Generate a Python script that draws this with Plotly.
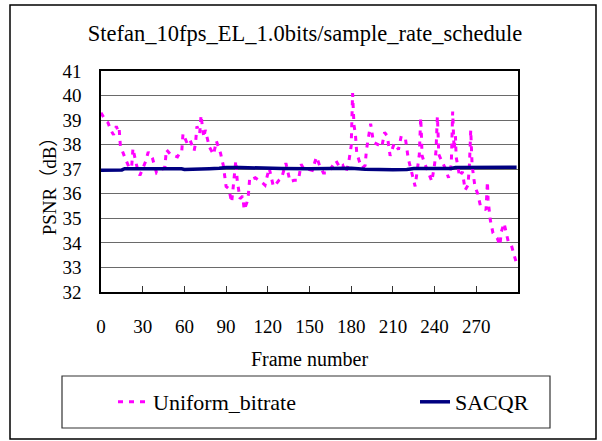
import plotly.graph_objects as go

chart_title = "Stefan_10fps_EL_1.0bits/sample_rate_schedule"
x_title = "Frame number"
y_title = "PSNR（dB）"
x_tick_vals = [0, 30, 60, 90, 120, 150, 180, 210, 240, 270]
y_tick_vals = [32, 33, 34, 35, 36, 37, 38, 39, 40, 41]

uniform_name = "Uniform_bitrate"
uniform_frames = [0, 1, 3, 5, 7, 9, 11, 12, 13, 14, 15, 17, 19, 20, 22, 23, 25, 27, 28, 30,
                  32, 34, 36, 37, 40, 43, 46, 47, 50, 52, 55, 56, 58, 59, 62, 64, 66, 67, 68, 69,
                  71, 72, 73, 74, 75, 78, 81, 83, 86, 88, 90, 92, 94, 95, 96, 97, 98, 100, 102, 103,
                  105, 106, 107, 109, 111, 114, 116, 118, 119, 121, 124, 126, 128, 130, 133, 136, 139, 142, 144, 146,
                  149, 152, 155, 157, 160, 163, 165, 167, 169, 172, 174, 176, 178, 180, 181, 182, 183, 184, 186, 188,
                  190, 191, 193, 194, 196, 198, 199, 201, 202, 204, 206, 208, 210, 211, 213, 214, 216, 219, 221, 224,
                  226, 229, 230, 230.5, 231, 233, 235, 238, 240, 241, 242, 242.5, 243, 245, 248, 250, 252, 253, 253.5, 254,
                  255, 255.5, 258, 260, 262, 264, 265, 266, 266.5, 267, 269, 271, 273, 277, 278, 278.5, 280, 282, 285, 287,
                  288, 290, 293, 295, 297, 299]
uniform_psnr = [39.3, 39.2, 39.0, 38.9, 38.6, 38.4, 38.75, 38.6, 38.7, 37.9, 37.8, 37.5, 37.25, 37.1, 37.05, 37.85, 37.3, 36.85, 36.75, 37.0,
                37.3, 37.7, 37.55, 37.45, 36.85, 36.95, 37.1, 37.8, 37.6, 37.55, 37.5, 37.6, 37.65, 38.45, 38.05, 38.2, 37.85, 37.75, 38.05, 38.75,
                38.45, 39.2, 38.7, 38.3, 38.6, 37.9, 37.6, 38.15, 37.65, 37.15, 36.3, 36.2, 35.65, 36.2, 36.9, 37.35, 36.55, 35.8, 35.9, 35.35,
                35.65, 35.95, 36.65, 36.6, 36.65, 36.55, 36.45, 36.35, 36.55, 37.05, 36.3, 36.4, 36.55, 36.65, 37.25, 36.5, 36.55, 36.55, 37.2, 37.0,
                37.0, 36.95, 37.5, 37.2, 36.85, 36.85, 37.0, 37.2, 37.35, 37.05, 37.15, 36.85, 37.2, 37.95, 40.1, 38.8, 38.45, 37.65, 37.3, 37.05,
                37.15, 37.8, 38.5, 38.85, 38.1, 38.05, 38.0, 37.95, 37.9, 38.5, 38.35, 37.55, 37.9, 38.05, 37.9, 37.8, 38.35, 38.25, 37.45, 36.7,
                36.3, 37.6, 39.1, 38.4, 37.55, 37.2, 36.95, 36.5, 37.2, 37.75, 39.15, 38.45, 37.6, 37.35, 37.0, 36.65, 37.2, 39.35, 38.6, 37.8,
                38.35, 37.5, 36.7, 36.9, 36.15, 36.35, 37.1, 38.6, 37.85, 37.15, 36.3, 36.0, 35.5, 35.35, 36.5, 35.75, 34.95, 34.4, 34.2, 33.9,
                34.45, 34.8, 34.05, 33.95, 33.55, 33.15]

sacqr_name = "SACQR"
sacqr_frames = [0, 10, 15, 17, 30, 45, 58, 60, 75, 78, 85, 90, 100, 107, 110, 130, 150, 170, 180, 190,
                200, 210, 220, 225, 240, 252, 255, 270, 285, 299]
sacqr_psnr = [36.96, 36.96, 36.97, 37.02, 37.03, 37.02, 37.02, 36.99, 36.99, 37.02, 37.04, 37.07, 37.07, 37.06, 37.03, 37.03, 37.02, 37.03, 37.04, 37.0,
              36.98, 36.98, 36.99, 37.03, 37.03, 37.03, 37.07, 37.08, 37.08, 37.08]

W, H = 602, 441
L, R, T, B = 101, 602 - 518, 71, 441 - 292
pw, ph = W - L - R, H - T - B

def px(x):
    return (x - L) / pw

def py(y):
    return (H - B - y) / ph

FONT = "Liberation Serif, Noto Sans CJK SC, serif"

fig = go.Figure()
fig.add_trace(go.Scatter(
    x=uniform_frames, y=uniform_psnr, name=uniform_name, mode="lines",
    line=dict(color="#FF00FF", width=3, dash="5px,6px"), legend="legend",
))
fig.add_trace(go.Scatter(
    x=sacqr_frames, y=sacqr_psnr, name=sacqr_name, mode="lines",
    line=dict(color="#000080", width=3.5), legend="legend2",
))

legend_common = dict(orientation="h", yanchor="middle", y=py(402), xanchor="left",
                     font=dict(family=FONT, size=22, color="black"),
                     bgcolor="rgba(0,0,0,0)", borderwidth=0)

fig.update_layout(
    width=W, height=H,
    margin=dict(l=L, r=R, t=T, b=B, autoexpand=False),
    paper_bgcolor="white", plot_bgcolor="white",
    font=dict(family=FONT, size=19, color="black"),
    title=dict(text=chart_title, x=305 / W, xanchor="center", y=1 - 33 / H, yanchor="middle",
               font=dict(family=FONT, size=22.5, color="black")),
    showlegend=True,
    legend=dict(x=px(113), **legend_common),
    legend2=dict(x=px(415), **legend_common),
    shapes=[
        dict(type="rect", xref="paper", yref="paper", x0=px(10), x1=px(596), y0=py(439), y1=py(5),
             line=dict(color="black", width=1.5), layer="below"),
        dict(type="rect", xref="paper", yref="paper", x0=px(62), x1=px(550), y0=py(428), y1=py(376),
             line=dict(color="#333333", width=1.2), layer="below"),
    ],
)

fig.update_xaxes(
    range=[0, 300], tickvals=x_tick_vals, ticks="inside", ticklen=6, tickcolor="#333333",
    showgrid=False, zeroline=False, showline=True, linecolor="black", linewidth=1.5, mirror=True,
    ticklabelstandoff=16, tickfont=dict(size=19), automargin=False,
    title=dict(text=x_title, font=dict(size=20), standoff=16),
)
fig.update_yaxes(
    range=[32, 41], tickvals=y_tick_vals, ticks="", showgrid=True, gridcolor="#6a6a6a", gridwidth=1.3,
    zeroline=False, showline=True, linecolor="black", linewidth=1.5, mirror=True,
    ticklabelstandoff=14, tickfont=dict(size=19), automargin=False,
    title=dict(text=y_title, font=dict(size=19), standoff=1),
)

fig.write_html("out.html", config={"displayModeBar": False},
               post_script="document.body.style.margin='0px';")
